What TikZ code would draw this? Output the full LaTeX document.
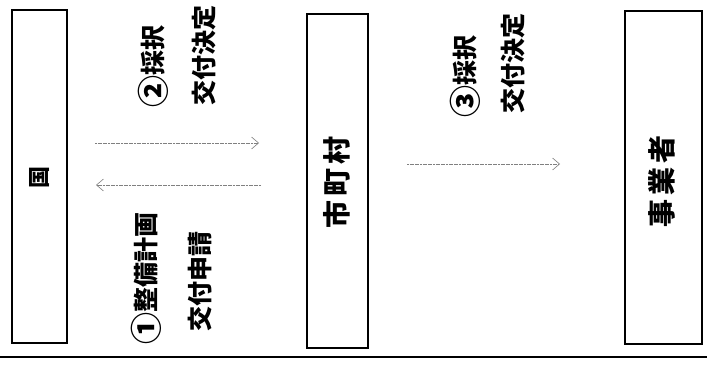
\documentclass[tikz,border=0pt]{standalone}
\usepackage{fontspec}
\newfontfamily\cjk{Noto Sans CJK JP}
\usetikzlibrary{arrows.meta}
\newcommand{\cnum}[1]{\raisebox{-2.5pt}{\fontsize{32}{32}\selectfont #1}}
\begin{document}
\begin{tikzpicture}[x=1pt,y=-1pt,
  box/.style={draw=black,line width=1.8pt,inner sep=0pt},
  boxtext/.style={rotate=90,inner sep=0pt,font=\cjk\bfseries\fontsize{28}{28}\selectfont},
  lbl/.style={rotate=90,inner sep=0pt,font=\cjk\bfseries\fontsize{25}{25}\selectfont},
  flow/.style={draw=black!50,line width=0.6pt,dash pattern=on 2pt off 0.6pt,-{Straight Barb[length=7pt,width=12pt,line width=0.6pt]}}]
\useasboundingbox (0,0) rectangle (707,372);
\node[box,minimum width=55pt,minimum height=333pt] (kuni) at (39.5,176.5) {};
\node[boxtext,font=\cjk\bfseries\fontsize{22}{22}\selectfont] (kunit) at (40,177) {国};
\node[box,minimum width=61pt,minimum height=334pt] (shi) at (337.5,181) {};
\node[boxtext] (shit) at (337,182) {市\kern4pt 町\kern4pt 村};
\node[box,minimum width=77pt,minimum height=333pt] (jig) at (663.5,177.5) {};
\node[boxtext] (jigt) at (662,181) {事\kern4pt 業\kern4pt 者};
\node[lbl] (l2a) at (153,66) {\cnum{②}採択};
\node[lbl] (l2b) at (204,55) {交付決定};
\node[lbl] (l1a) at (146,278) {\cnum{①}整備計画};
\node[lbl] (l1b) at (200,281) {交付申請};
\node[lbl] (l3a) at (465,76) {\cnum{③}採択};
\node[lbl] (l3b) at (513,63) {交付決定};
\coordinate (a2s) at (95,143);
\coordinate (a2e) at (259,143);
\coordinate (a1s) at (261,185);
\coordinate (a1e) at (96,185);
\coordinate (a3s) at (407,164);
\coordinate (a3e) at (560,164);
\draw[flow] (a2s) -- (a2e);
\draw[flow] (a1s) -- (a1e);
\draw[flow] (a3s) -- (a3e);
\coordinate (bl) at (0,357);
\coordinate (br) at (707,357);
\draw[line width=2.5pt] (bl) -- (br);
\end{tikzpicture}
\end{document}
